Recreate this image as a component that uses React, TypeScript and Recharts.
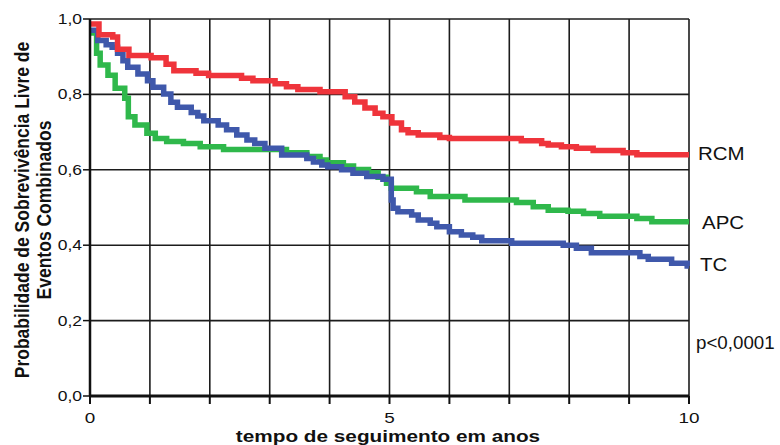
import { LineChart, Line, XAxis, YAxis, CartesianGrid } from 'recharts';

const FONT = '"Liberation Sans", Arial, Helvetica, sans-serif';

// Kaplan-Meier steps (years, survival)
const RCM_T = [0, 0.15, 0.38, 0.46, 0.65, 1.02, 1.27, 1.4, 1.77, 1.98, 2.53, 2.72, 3.09, 3.28, 3.47, 3.84, 4.26, 4.42, 4.59, 4.76, 4.89, 5.04, 5.2, 5.31, 5.48, 5.84, 6.0, 7.2, 7.54, 7.65, 7.87, 8.12, 8.4, 8.9, 9.13, 10];
const RCM_S = [0.987, 0.958, 0.952, 0.92, 0.903, 0.897, 0.88, 0.863, 0.856, 0.85, 0.843, 0.836, 0.828, 0.82, 0.813, 0.807, 0.794, 0.78, 0.764, 0.75, 0.741, 0.724, 0.706, 0.698, 0.692, 0.686, 0.683, 0.677, 0.67, 0.666, 0.661, 0.657, 0.651, 0.645, 0.64, 0.64];

const APC_T = [0, 0.11, 0.17, 0.3, 0.42, 0.58, 0.64, 0.75, 0.95, 1.09, 1.28, 1.56, 1.84, 2.23, 3.28, 3.62, 3.84, 3.95, 4.23, 4.4, 4.65, 4.81, 4.95, 5.03, 5.45, 5.68, 6.26, 7.12, 7.4, 7.65, 7.98, 8.24, 8.51, 9.13, 9.38, 10];
const APC_S = [0.963, 0.909, 0.878, 0.851, 0.816, 0.79, 0.741, 0.719, 0.697, 0.683, 0.675, 0.67, 0.661, 0.654, 0.645, 0.635, 0.626, 0.619, 0.61, 0.601, 0.592, 0.58, 0.564, 0.551, 0.542, 0.529, 0.52, 0.513, 0.502, 0.493, 0.49, 0.484, 0.477, 0.471, 0.462, 0.462];

const TC_T = [0, 0.13, 0.27, 0.37, 0.46, 0.55, 0.63, 0.8, 0.96, 1.05, 1.23, 1.35, 1.46, 1.69, 1.8, 1.9, 2.14, 2.28, 2.45, 2.62, 2.75, 2.92, 3.2, 3.62, 3.73, 3.87, 3.97, 4.2, 4.39, 4.62, 4.89, 5.03, 5.06, 5.14, 5.37, 5.48, 5.68, 5.79, 6.0, 6.2, 6.39, 6.54, 7.04, 7.9, 8.12, 8.37, 9.18, 9.32, 9.71, 9.97, 10];
const TC_S = [0.97, 0.943, 0.932, 0.925, 0.909, 0.889, 0.872, 0.854, 0.836, 0.819, 0.801, 0.779, 0.766, 0.752, 0.743, 0.73, 0.719, 0.706, 0.692, 0.679, 0.67, 0.657, 0.639, 0.63, 0.621, 0.613, 0.608, 0.6, 0.591, 0.582, 0.575, 0.52, 0.498, 0.489, 0.48, 0.467, 0.458, 0.449, 0.436, 0.427, 0.421, 0.412, 0.405, 0.4, 0.392, 0.38, 0.37, 0.363, 0.352, 0.345, 0.345];

const X_TICKS = [0, 1, 2, 3, 4, 5, 6, 7, 8, 9, 10];
const X_LABELED = [0, 5, 10];
const Y_TICKS = [0, 0.2, 0.4, 0.6, 0.8, 1.0];

const toPoints = (ts: number[], ss: number[]) => ts.map((t, i) => ({ t, s: ss[i] }));

const rcm = toPoints(RCM_T, RCM_S);
const apc = toPoints(APC_T, APC_S);
const tc = toPoints(TC_T, TC_S);

function XTick({ x, y, payload }: any) {
  if (!X_LABELED.includes(payload.value)) return null;
  return (
    <g transform={`translate(${x},${y + 17})`}>
      <text textAnchor="middle" fontSize={15.5} fontFamily={FONT} fill="#111" transform="scale(1.22,1)">
        {payload.value}
      </text>
    </g>
  );
}

function YTick({ x, y, payload }: any) {
  return (
    <g transform={`translate(${x - 1},${y})`}>
      <text textAnchor="end" dy="0.36em" fontSize={14} fontFamily={FONT} fill="#111" transform="scale(1.25,1)">
        {payload.value.toFixed(1).replace('.', ',')}
      </text>
    </g>
  );
}

const sideLabel = (text: string, left: number, top: number, sx = 1.17) => (
  <div
    style={{
      position: 'absolute',
      left,
      top,
      transform: `translateY(-50%) scaleX(${sx})`,
      transformOrigin: 'left center',
      fontSize: 17.5,
      fontFamily: FONT,
      color: '#111',
      whiteSpace: 'nowrap',
      lineHeight: 1,
    }}
  >
    {text}
  </div>
);

export default function App() {
  return (
    <div style={{ position: 'absolute', left: 0, top: 0, width: 780, height: 445, background: '#fff' }}>
      <LineChart width={780} height={445} margin={{ top: 19, right: 91, bottom: 19, left: 0 }}>
        <CartesianGrid stroke="#1c1c1c" strokeWidth={1.6} />
        <XAxis
          type="number"
          dataKey="t"
          domain={[0, 10]}
          ticks={X_TICKS}
          interval={0}
          height={30}
          tickSize={8}
          tickMargin={2}
          tick={<XTick />}
          axisLine={{ stroke: '#111', strokeWidth: 3 }}
          tickLine={{ stroke: '#111', strokeWidth: 2 }}
        />
        <YAxis
          type="number"
          domain={[0, 1]}
          ticks={Y_TICKS}
          interval={0}
          width={90}
          tickSize={7}
          tickMargin={0}
          tick={<YTick />}
          axisLine={{ stroke: '#111', strokeWidth: 2.5 }}
          tickLine={{ stroke: '#111', strokeWidth: 1.5 }}
        />
        <Line data={apc} dataKey="s" type="stepAfter" stroke="#2fb84b" strokeWidth={5.5} dot={false} isAnimationActive={false} />
        <Line data={tc} dataKey="s" type="stepAfter" stroke="#3f58ab" strokeWidth={5.5} dot={false} isAnimationActive={false} />
        <Line data={rcm} dataKey="s" type="stepAfter" stroke="#ef343b" strokeWidth={5.5} dot={false} isAnimationActive={false} />
      </LineChart>

      {sideLabel('RCM', 698, 155)}
      {sideLabel('APC', 702, 224)}
      {sideLabel('TC', 700, 266)}
      {sideLabel('p<0,0001', 696, 344, 1.07)}

      <div
        style={{
          position: 'absolute',
          left: 33,
          top: 210,
          transform: 'translate(-50%, -50%) rotate(-90deg) scaleY(1.2)',
          fontSize: 17.5,
          fontWeight: 'bold',
          fontFamily: FONT,
          color: '#111',
          whiteSpace: 'nowrap',
          textAlign: 'center',
          lineHeight: '18px',
        }}
      >
        Probabilidade de Sobrevivência Livre de
        <br />
        Eventos Combinados
      </div>

      <div
        style={{
          position: 'absolute',
          left: 388,
          top: 436,
          transform: 'translate(-50%, -50%) scaleX(1.22)',
          fontSize: 17,
          fontWeight: 'bold',
          fontFamily: FONT,
          color: '#111',
          whiteSpace: 'nowrap',
          lineHeight: 1,
        }}
      >
        tempo de seguimento em anos
      </div>
    </div>
  );
}
